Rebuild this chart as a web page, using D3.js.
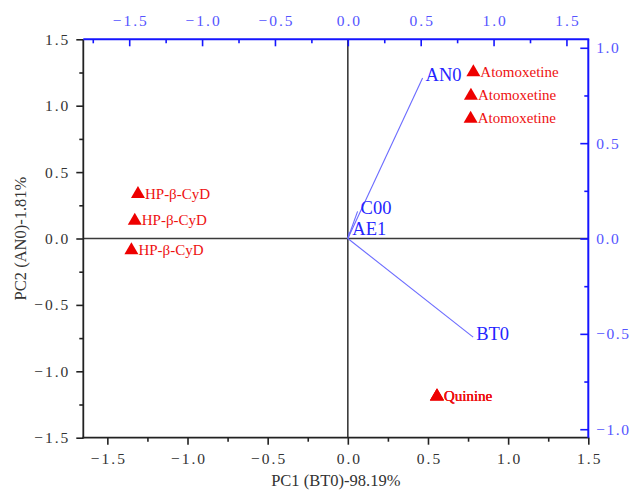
<!DOCTYPE html>
<html>
<head>
<meta charset="utf-8">
<script src="https://cdn.jsdelivr.net/npm/d3@7/dist/d3.min.js"></script>
<style>
  html, body { margin: 0; padding: 0; background: #fff; }
  svg { display: block; }
  text { font-family: "Liberation Serif", "DejaVu Serif", serif; }
</style>
</head>
<body>
<svg id="chart" width="634" height="491"></svg>
<script>
// Sample scores (PC1, PC2) on the bottom/left axes
const scoreNames = ["Atomoxetine", "Atomoxetine", "Atomoxetine",
                    "HP-β-CyD", "HP-β-CyD", "HP-β-CyD",
                    "Quinine", "Quinine", "Quinine"];
const scorePC1 = [0.783, 0.768, 0.766, -1.309, -1.329, -1.350, 0.555, 0.556, 0.557];
const scorePC2 = [1.263, 1.087, 0.913, 0.346, 0.145, -0.078, -1.178, -1.179, -1.177];

// Variable loadings on the top/right axes
const loadingNames = ["AN0", "BT0", "C00", "AE1"];
const loadingPC1 = [0.513, 0.860, 0.067, 0.010];
const loadingPC2 = [0.842, -0.517, 0.142, 0.035];

// Tick values
const scoreXTicks = [-1.5, -1.0, -0.5, 0.0, 0.5, 1.0, 1.5];
const scoreXMinor = [-1.25, -0.75, -0.25, 0.25, 0.75, 1.25];
const scoreYTicks = [-1.5, -1.0, -0.5, 0.0, 0.5, 1.0, 1.5];
const scoreYMinor = [-1.25, -0.75, -0.25, 0.25, 0.75, 1.25];
const loadXTicks = [-1.5, -1.0, -0.5, 0.0, 0.5, 1.0, 1.5];
const loadXMinor = [-1.75, -1.25, -0.75, -0.25, 0.25, 0.75, 1.25];
const loadYTicks = [-1.0, -0.5, 0.0, 0.5, 1.0];
const loadYMinor = [-0.75, -0.25, 0.25, 0.75];

const xTitle = "PC1 (BT0)-98.19%";
const yTitle = "PC2 (AN0)-1.81%";

const svg = d3.select("#chart");
const pLeft = 83.3, pRight = 588.3, pTop = 39.3, pBottom = 437.7;

const x = d3.scaleLinear().domain([-1.65, 1.5]).range([pLeft, pRight]);
const y = d3.scaleLinear().domain([-1.5, 1.5]).range([pBottom, pTop]);
const x2 = d3.scaleLinear().domain([-1.815, 1.65]).range([pLeft, pRight]);
const y2 = d3.scaleLinear().domain([-1.0445, 1.0445]).range([pBottom, pTop]);

const fmt = d => d3.format(".1f")(d).replace("-", "\u2212");

const dark = "#222", darkText = "#333";
const blue = "#1515ff", blueText = "#5555ff";

// Zero reference lines
svg.append("line").attr("x1", pLeft).attr("x2", pRight)
  .attr("y1", y(0)).attr("y2", y(0)).attr("stroke", "#3a3a3a").attr("stroke-width", 1.6);
svg.append("line").attr("x1", x(0)).attr("x2", x(0))
  .attr("y1", pTop).attr("y2", pBottom).attr("stroke", "#3a3a3a").attr("stroke-width", 1.6);

function styleAxis(g, color, textColor, anchorShift) {
  g.select(".domain").remove();
  g.selectAll(".tick line").attr("stroke", color).attr("stroke-width", 1.6);
  g.selectAll(".tick text").attr("fill", textColor)
    .style("font-size", "15.5px").style("letter-spacing", "2px");
  if (anchorShift) g.selectAll(".tick text").attr("dx", anchorShift);
}
function styleMinor(g, color) {
  g.select(".domain").remove();
  g.selectAll("line").attr("stroke", color).attr("stroke-width", 1.6);
}

// Bottom axis
const gB = svg.append("g").attr("transform", `translate(0,${pBottom})`)
  .call(d3.axisBottom(x).tickValues(scoreXTicks).tickFormat(fmt).tickSize(7).tickPadding(8));
styleAxis(gB, dark, darkText, 1);
svg.append("g").attr("transform", `translate(0,${pBottom})`)
  .call(d3.axisBottom(x).tickValues(scoreXMinor).tickFormat("").tickSize(4))
  .call(g => styleMinor(g, dark));

// Left axis
const gL = svg.append("g").attr("transform", `translate(${pLeft},0)`)
  .call(d3.axisLeft(y).tickValues(scoreYTicks).tickFormat(fmt).tickSize(7).tickPadding(6));
styleAxis(gL, dark, darkText);
svg.append("g").attr("transform", `translate(${pLeft},0)`)
  .call(d3.axisLeft(y).tickValues(scoreYMinor).tickFormat("").tickSize(4))
  .call(g => styleMinor(g, dark));

// Top axis (loadings), ticks inward
const gT = svg.append("g").attr("transform", `translate(0,${pTop})`)
  .call(d3.axisTop(x2).tickValues(loadXTicks).tickFormat(fmt).tickSizeInner(-7).tickSizeOuter(0).tickPadding(13));
styleAxis(gT, blue, blueText, 1);
svg.append("g").attr("transform", `translate(0,${pTop})`)
  .call(d3.axisTop(x2).tickValues(loadXMinor).tickFormat("").tickSizeInner(-4).tickSizeOuter(0))
  .call(g => styleMinor(g, blue));

// Right axis (loadings), ticks inward
const gR = svg.append("g").attr("transform", `translate(${pRight},0)`)
  .call(d3.axisRight(y2).tickValues(loadYTicks).tickFormat(fmt).tickSizeInner(-8).tickSizeOuter(0).tickPadding(8));
styleAxis(gR, blue, blueText);
gR.selectAll(".tick text").style("letter-spacing", "1.5px");
svg.append("g").attr("transform", `translate(${pRight},0)`)
  .call(d3.axisRight(y2).tickValues(loadYMinor).tickFormat("").tickSizeInner(-4).tickSizeOuter(0))
  .call(g => styleMinor(g, blue));

// Frame: black left/bottom, blue top/right
svg.append("line").attr("x1", pLeft).attr("x2", pLeft).attr("y1", pTop).attr("y2", pBottom + 0.8)
  .attr("stroke", dark).attr("stroke-width", 1.8);
svg.append("line").attr("x1", pLeft - 0.9).attr("x2", pRight + 0.9).attr("y1", pBottom).attr("y2", pBottom)
  .attr("stroke", dark).attr("stroke-width", 1.8);
svg.append("line").attr("x1", pLeft).attr("x2", pRight + 0.9).attr("y1", pTop).attr("y2", pTop)
  .attr("stroke", blue).attr("stroke-width", 2);
svg.append("line").attr("x1", pRight).attr("x2", pRight).attr("y1", pTop).attr("y2", pBottom)
  .attr("stroke", blue).attr("stroke-width", 2);

// Loading vectors
const loadings = loadingNames.map((n, i) => ({ name: n, px: loadingPC1[i], py: loadingPC2[i] }));
svg.append("g").selectAll("line").data(loadings).join("line")
  .attr("x1", x2(0)).attr("y1", y2(0))
  .attr("x2", d => x2(d.px)).attr("y2", d => y2(d.py))
  .attr("stroke", "#6b6bff").attr("stroke-width", 1.1);
svg.append("g").selectAll("text").data(loadings).join("text")
  .attr("x", d => x2(d.px) + 3).attr("y", d => y2(d.py) + 3)
  .attr("fill", "#2525ff").style("font-size", "18.5px")
  .text(d => d.name);

// Sample score markers and labels
const scores = scoreNames.map((n, i) => ({ name: n, px: scorePC1[i], py: scorePC2[i] }));
const triPath = "M0,-6.5L7,5.5L-7,5.5Z";
const gS = svg.append("g");
gS.selectAll("path").data(scores).join("path")
  .attr("transform", d => `translate(${x(d.px)},${y(d.py)})`)
  .attr("d", triPath).attr("fill", "#ee0000");
gS.selectAll("text").data(scores).join("text")
  .attr("x", d => x(d.px) + 7).attr("y", d => y(d.py) + 6)
  .attr("fill", "#ee1111").style("font-size", "15px")
  .text(d => d.name);

// Axis titles
svg.append("text").attr("x", (pLeft + pRight) / 2).attr("y", 486)
  .attr("text-anchor", "middle").attr("fill", darkText).style("font-size", "16.5px").text(xTitle);
svg.append("text").attr("transform", `translate(26,${(pTop + pBottom) / 2}) rotate(-90)`)
  .attr("text-anchor", "middle").attr("fill", darkText).style("font-size", "16.5px").text(yTitle);
</script>
</body>
</html>
